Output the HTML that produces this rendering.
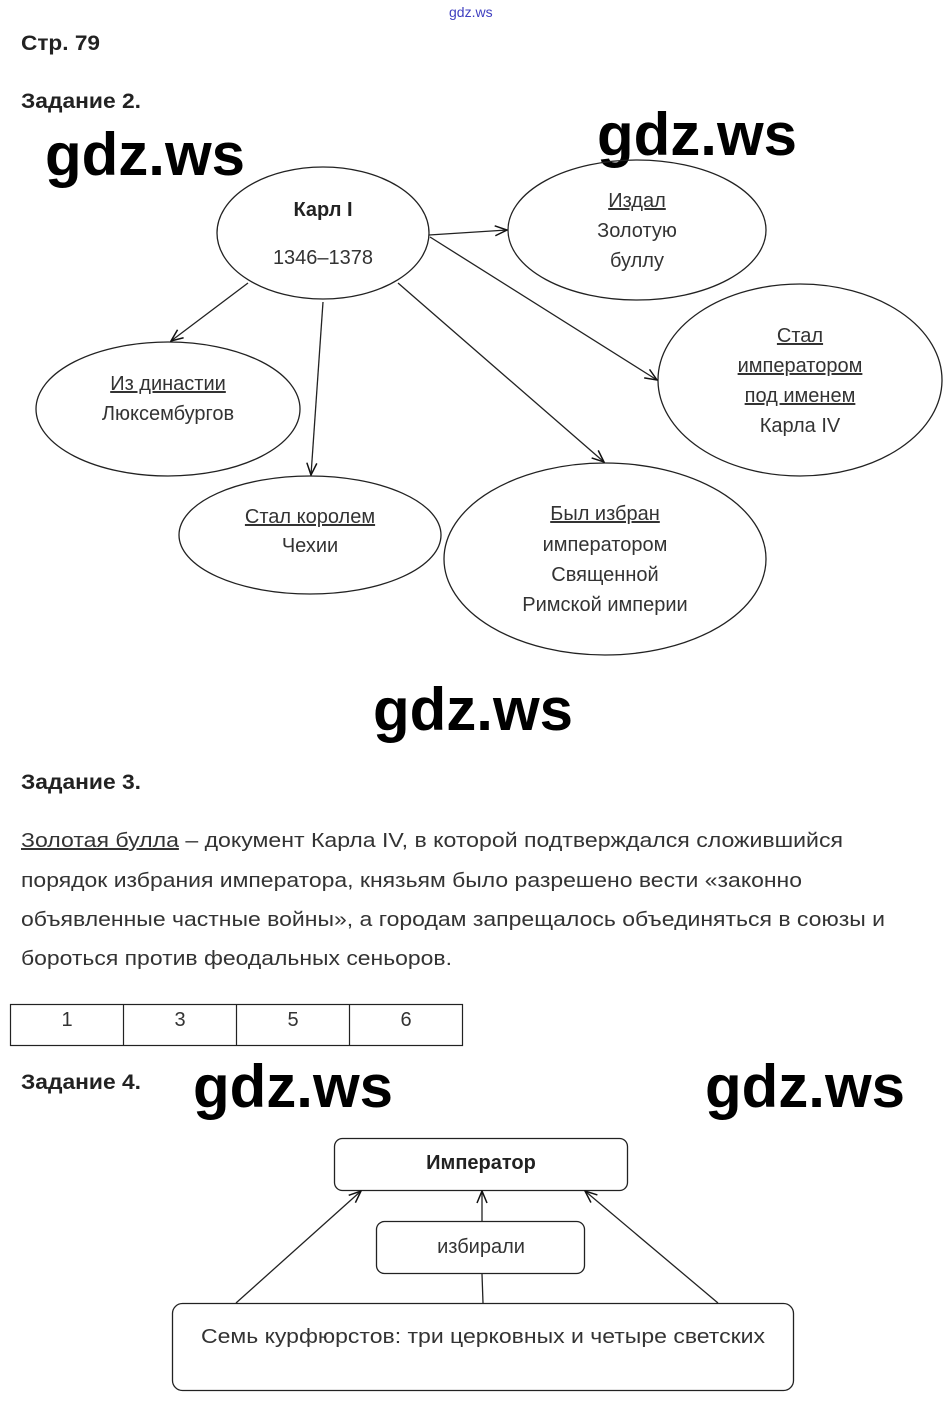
<!DOCTYPE html>
<html><head><meta charset="utf-8"><style>
html,body{margin:0;padding:0;background:#fff;}
svg{display:block;}
text{font-family:"Liberation Sans",sans-serif;}
.t{font-size:20px;fill:#333;}
.b{font-size:20px;font-weight:bold;fill:#222;}
.h{font-size:21px;font-weight:bold;fill:#222;}
.w{font-size:60px;font-weight:bold;fill:#000;font-family:"Liberation Sans",sans-serif;}
</style></head><body>
<svg width="951" height="1405" viewBox="0 0 951 1405" xmlns="http://www.w3.org/2000/svg">
<defs>
<marker id="a" markerWidth="14" markerHeight="12" refX="13" refY="6" orient="auto" markerUnits="userSpaceOnUse">
<path d="M1,1 L13,6 L1,11" fill="none" stroke="#111" stroke-width="1.5"/>
</marker>
</defs>
<text x="449" y="17" font-size="14" fill="#4040c0">gdz.ws</text>
<text x="21" y="50" class="h" textLength="79" lengthAdjust="spacingAndGlyphs">Стр. 79</text>
<text x="21" y="108" class="h" textLength="120" lengthAdjust="spacingAndGlyphs">Задание 2.</text>
<text x="45" y="175" class="w">gdz.ws</text>
<text x="597" y="155" class="w">gdz.ws</text>

<g fill="none" stroke="#222" stroke-width="1.3">
<ellipse cx="323" cy="233" rx="106" ry="66"/>
<ellipse cx="637" cy="230" rx="129" ry="70"/>
<ellipse cx="800" cy="380" rx="142" ry="96"/>
<ellipse cx="168" cy="409" rx="132" ry="67"/>
<ellipse cx="310" cy="535" rx="131" ry="59"/>
<ellipse cx="605" cy="559" rx="161" ry="96"/>
<line x1="429" y1="235" x2="507" y2="230" marker-end="url(#a)"/>
<line x1="430" y1="237" x2="657" y2="380" marker-end="url(#a)"/>
<line x1="248" y1="283" x2="171" y2="341" marker-end="url(#a)"/>
<line x1="323" y1="302" x2="311" y2="475" marker-end="url(#a)"/>
<line x1="398" y1="283" x2="604" y2="462" marker-end="url(#a)"/>
</g>
<g text-anchor="middle">
<text x="323" y="216" class="b">Карл I</text>
<text x="323" y="264" class="t" font-size="21">1346–1378</text>
<text x="637" y="207" class="t" text-decoration="underline">Издал</text>
<text x="637" y="237" class="t">Золотую</text>
<text x="637" y="267" class="t">буллу</text>
<text x="800" y="342" class="t" text-decoration="underline">Стал</text>
<text x="800" y="372" class="t" text-decoration="underline">императором</text>
<text x="800" y="402" class="t" text-decoration="underline">под именем</text>
<text x="800" y="432" class="t">Карла IV</text>
<text x="168" y="390" class="t" text-decoration="underline">Из династии</text>
<text x="168" y="420" class="t">Люксембургов</text>
<text x="310" y="523" class="t" text-decoration="underline">Стал королем</text>
<text x="310" y="552" class="t">Чехии</text>
<text x="605" y="520" class="t" text-decoration="underline">Был избран</text>
<text x="605" y="551" class="t">императором</text>
<text x="605" y="581" class="t">Священной</text>
<text x="605" y="611" class="t">Римской империи</text>
</g>

<text x="373" y="730" class="w">gdz.ws</text>
<text x="21" y="789" class="h" textLength="120" lengthAdjust="spacingAndGlyphs">Задание 3.</text>

<text x="21" y="847" class="t" textLength="822" lengthAdjust="spacingAndGlyphs"><tspan text-decoration="underline">Золотая булла</tspan> – документ Карла IV, в которой подтверждался сложившийся</text>
<text x="21" y="887" class="t" textLength="781" lengthAdjust="spacingAndGlyphs">порядок избрания императора, князьям было разрешено вести «законно</text>
<text x="21" y="926" class="t" textLength="864" lengthAdjust="spacingAndGlyphs">объявленные частные войны», а городам запрещалось объединяться в союзы и</text>
<text x="21" y="965" class="t" textLength="431" lengthAdjust="spacingAndGlyphs">бороться против феодальных сеньоров.</text>

<g fill="none" stroke="#222" stroke-width="1.2">
<rect x="10.5" y="1004.5" width="452" height="41"/>
<line x1="123.5" y1="1004" x2="123.5" y2="1045"/>
<line x1="236.5" y1="1004" x2="236.5" y2="1045"/>
<line x1="349.5" y1="1004" x2="349.5" y2="1045"/>
</g>
<g text-anchor="middle">
<text x="67" y="1026" class="t">1</text>
<text x="180" y="1026" class="t">3</text>
<text x="293" y="1026" class="t">5</text>
<text x="406" y="1026" class="t">6</text>
</g>

<text x="21" y="1089" class="h" textLength="120" lengthAdjust="spacingAndGlyphs">Задание 4.</text>
<text x="193" y="1107" class="w">gdz.ws</text>
<text x="705" y="1107" class="w">gdz.ws</text>

<g fill="none" stroke="#222" stroke-width="1.3">
<rect x="334.5" y="1138.5" width="293" height="52" rx="8"/>
<rect x="376.5" y="1221.5" width="208" height="52" rx="8"/>
<rect x="172.5" y="1303.5" width="621" height="87" rx="10"/>
<line x1="236" y1="1303" x2="361" y2="1191" marker-end="url(#a)"/>
<line x1="482" y1="1221" x2="482" y2="1191" marker-end="url(#a)"/>
<line x1="482" y1="1274" x2="483" y2="1303"/>
<line x1="718" y1="1303" x2="585" y2="1191" marker-end="url(#a)"/>
</g>
<g text-anchor="middle">
<text x="481" y="1169" class="b">Император</text>
<text x="481" y="1253" class="t">избирали</text>
<text x="483" y="1343" class="t" textLength="564" lengthAdjust="spacingAndGlyphs">Семь курфюрстов: три церковных и четыре светских</text>
</g>
</svg>
</body></html>
